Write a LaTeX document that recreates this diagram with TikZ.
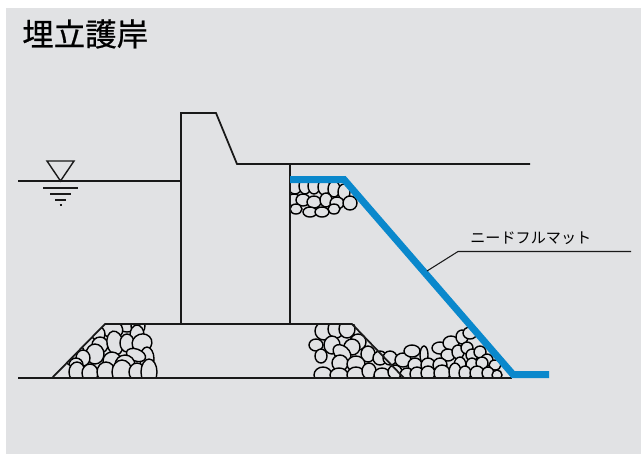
\documentclass[tikz,border=0pt]{standalone}
\usepackage{fontspec}
\setmainfont{Noto Sans CJK JP}
\newfontfamily\titlefont[FakeBold=0.6]{Noto Sans CJK JP}
\definecolor{bggray}{HTML}{E1E2E4}
\definecolor{matblue}{HTML}{0A88CC}
\tikzset{
  wall/.style={draw=black!90,line width=1pt,line join=miter},
  thin/.style={draw=black!90,line width=0.6pt},
  stone/.style={draw=black,line width=0.8pt,fill=bggray},
  mat/.style={draw=matblue,line width=0.14cm,line join=miter},
}
\begin{document}
\begin{tikzpicture}[x=0.02cm,y=-0.02cm]
\useasboundingbox (0,0) rectangle (641,454);
\fill[bggray] (6,8) rectangle (641,454);
\node (title) [anchor=west,inner sep=0pt,font=\titlefont\fontsize{17.9pt}{20pt}\selectfont] at (22,34) {埋立護岸};
\node (matlabel) [anchor=west,inner sep=0pt,font=\fontsize{8.6pt}{11pt}\selectfont] at (470,238) {ニードフルマット};
% points
\coordinate (waterL) at (18,181);
\coordinate (waterR) at (181,181);
\coordinate (triA) at (47,161);
\coordinate (triB) at (74,161);
\coordinate (triC) at (60.5,181);
\coordinate (caisA) at (181,323);
\coordinate (caisB) at (181,113);
\coordinate (caisC) at (216,113);
\coordinate (caisD) at (237,164);
\coordinate (landR) at (530,164);
\coordinate (caisE) at (290,164);
\coordinate (caisF) at (290,323);
\coordinate (groundL) at (18,378);
\coordinate (groundR) at (512,378);
\coordinate (moundA) at (52,378);
\coordinate (moundB) at (105,324);
\coordinate (moundC) at (352,324);
\coordinate (moundD) at (404,378);
\coordinate (matA) at (290,179.5);
\coordinate (matB) at (344,179.5);
\coordinate (matC) at (513,374.5);
\coordinate (matD) at (549,374.5);
\coordinate (leadA) at (427,271);
\coordinate (leadB) at (458,251.5);
\coordinate (leadC) at (631,251.5);
% stones, left
\begin{scope}
\clip (52,378) -- (105,324) -- (160,324) -- (160,378) -- cycle;
\foreach \x/\y/\a/\b/\r in {
  127/325/9/7/0,138/326/7/8/0,112/329/11/9/-20,137/335/7/10/0,
  97/334/8/8/0,88/344/8/8/0,76/352/8/8/0,66/362/8/8/0,
  100/345/8/8/0,95/354/9/10/0,83/358/7/8/0,115/343/8/12/10,
  127/343/7/9/0,142/343/10/9/20,147/359/7/12/0,
  136/355/10/6/-20,112/361/9/9/0,125/365/10/10/0,
  76/365/7/7/0,62/373/11/11/0,77/372/8/10/0,
  90/373/8/9/0,106/372/9/10/0,122/372/10/12/0,137/372/8/9/0,149/372/8/13/0}
  \draw[stone] (\x,\y) ellipse [x radius=\a,y radius=\b,rotate=\r];
\end{scope}
% stones, right
\begin{scope}
\clip (300,324) -- (469,324) -- (513,378) -- (300,378) -- cycle;
\foreach \x/\y/\a/\b/\r in {
  324/331/9/9/0,336/329/8/9/0,347/329/8/9/0,358/342/8/8/0,
  316/345/7/6/0,352/347/8/8/0,321/356/6/7/0,332/345/8/9/0,
  342/353/10/7/-40,368/354/7/8/0,380/358/7/7/0,390/358/7/7/0,
  403/360/8/7/0,412/351/8/6/0,424/355/4/9/0,
  440/348/8/6/0,451/343/8/7/0,462/337/6/7/0,470/333/7/6/0,
  448/355/7/6/0,458/352/6/7/0,467/348/6/6/0,472/355/6/6/0,
  480/352/6/6/0,487/360/6/6/0,
  340/363/8/8/0,356/364/9/8/0,415/365/7/7/0,428/365/7/7/0,
  440/365/7/7/0,460/365/6/8/0,472/365/6/7/0,482/363/6/6/0,495/365/6/5/0,
  323/375/9/8/0,339/375/9/7/0,356/375/9/8/0,369/371/7/8/0,382/375/8/7/0,
  395/372/7/7/0,407/375/7/7/0,417/374/7/7/0,428/373/7/7/0,442/373/8/8/0,
  455/372/6/9/0,465/373/6/7/0,477/373/7/7/0,488/373/6/6/0,497/375/5/5/0}
  \draw[stone] (\x,\y) ellipse [x radius=\a,y radius=\b,rotate=\r];
\end{scope}
% stones, upper
\begin{scope}
\clip (290,179) -- (345,179) -- (380,220) -- (290,225) -- cycle;
\foreach \x/\y/\a/\b/\r in {
  295/186/7/8/0,305/186/6/8/0,314/186/6/8/0,324/187/6/8/0,334/189/6/8/0,344/192/6/8/0,
  294/200/7/6/0,303/200/7/6/0,314/202/7/6/0,326/200/6/7/0,337/203/7/6/0,350/203/7/7/0,
  296/209/6/5/0,310/212/7/5/0,322/212/7/5/0,334/209/6/5/0}
  \draw[stone] (\x,\y) ellipse [x radius=\a,y radius=\b,rotate=\r];
\end{scope}
% outlines
\draw[wall] (waterL) -- (waterR);
\draw[thin,line width=0.8pt] (triC) -- (triA) -- (triB) -- cycle;
\foreach \ya/\xa/\xb/\nm in {188/43/78/a,194/50/71/b,200/55/66/c} {
  \coordinate (tick\nm L) at (\xa,\ya);
  \coordinate (tick\nm R) at (\xb,\ya);
  \draw[wall,line width=0.8pt] (tick\nm L) -- (tick\nm R);
}
\coordinate (dotL) at (59.5,205);
\coordinate (dotR) at (61.5,205);
\draw[wall,line width=0.8pt] (dotL) -- (dotR);
\draw[wall] (caisA) -- (caisB) -- (caisC) -- (caisD) -- (landR);
\draw[wall] (caisE) -- (caisF);
\draw[wall] (moundA) -- (moundB) -- (moundC) -- (moundD);
\draw[wall] (groundL) -- (groundR);
\draw[mat] (matA) -- (matB) -- (matC) -- (matD);
\draw[thin] (leadA) -- (leadB) -- (leadC);
\end{tikzpicture}
\end{document}
